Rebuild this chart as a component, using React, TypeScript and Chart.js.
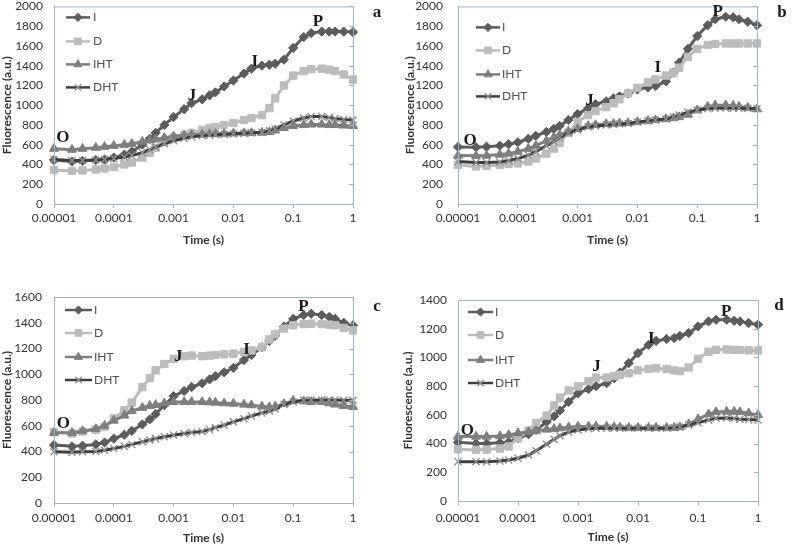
import React, { useEffect, useRef } from "react";
import { Chart, registerables } from "chart.js";
Chart.register(...registerables);

// ---------- data ----------
const TIME = [1e-5, 2e-5, 3e-5, 5e-5, 7e-5, 1e-4, 1.5e-4, 2e-4, 3e-4, 4e-4, 5e-4, 7e-4, 1e-3, 1.5e-3, 2e-3, 3e-3, 4e-3, 5e-3, 7e-3, 1e-2, 1.5e-2, 2e-2, 3e-2, 4e-2, 5e-2, 7e-2, 0.1, 0.15, 0.2, 0.3, 0.4, 0.5, 0.7, 1];
const X_TICKS = [1e-5, 1e-4, 1e-3, 1e-2, 1e-1, 1];
const X_TICK_LABELS = ["0.00001", "0.0001", "0.001", "0.01", "0.1", "1"];
const SERIES_NAMES = ["I", "D", "IHT", "DHT"];
const PANEL_LETTERS = ["a", "b", "c", "d"];
const PANEL_YMAX = [2000, 2000, 1600, 1400];
const Y_STEP = 200;
const X_TITLE = "Time (s)";
const Y_TITLE = "Fluorescence (a.u.)";

// panel a
const A_I = [445, 430, 435, 445, 450, 470, 500, 530, 600, 660, 720, 800, 880, 960, 1020, 1060, 1100, 1130, 1190, 1250, 1320, 1370, 1400, 1410, 1420, 1460, 1580, 1690, 1730, 1745, 1745, 1745, 1745, 1740];
const A_D = [345, 335, 340, 350, 360, 375, 400, 420, 470, 520, 570, 630, 670, 700, 720, 750, 770, 780, 800, 820, 850, 870, 900, 970, 1070, 1200, 1300, 1345, 1365, 1370, 1360, 1345, 1310, 1260];
const A_IHT = [560, 550, 560, 570, 580, 590, 600, 610, 630, 645, 655, 670, 685, 695, 700, 705, 710, 710, 712, 715, 718, 720, 722, 730, 745, 770, 790, 800, 805, 805, 800, 800, 795, 790];
const A_DHT = [450, 440, 440, 445, 450, 460, 475, 490, 520, 550, 575, 610, 640, 665, 680, 690, 695, 700, 705, 710, 715, 720, 725, 740, 760, 800, 840, 870, 885, 885, 875, 865, 855, 850];
// panel b
const B_I = [577, 575, 580, 590, 605, 625, 660, 690, 730, 760, 790, 850, 910, 970, 1010, 1040, 1070, 1090, 1120, 1160, 1180, 1195, 1240, 1330, 1430, 1570, 1700, 1810, 1870, 1895, 1890, 1870, 1845, 1810];
const B_D = [395, 380, 385, 395, 405, 410, 430, 460, 510, 560, 620, 720, 830, 900, 940, 980, 1020, 1060, 1120, 1175, 1230, 1260, 1300, 1330, 1380, 1490, 1570, 1610, 1620, 1625, 1625, 1625, 1625, 1625];
const B_IHT = [490, 488, 490, 500, 510, 530, 560, 590, 640, 675, 700, 735, 760, 790, 800, 810, 812, 815, 820, 830, 840, 850, 860, 870, 880, 905, 950, 985, 1000, 1000, 995, 985, 975, 960];
const B_DHT = [430, 420, 420, 425, 440, 460, 495, 530, 590, 630, 670, 720, 750, 780, 790, 800, 805, 810, 815, 830, 840, 850, 860, 880, 900, 930, 950, 965, 970, 970, 970, 970, 968, 965];
// panel c
const C_I = [450, 440, 445, 455, 470, 500, 530, 560, 610, 650, 690, 760, 830, 870, 900, 930, 960, 985, 1015, 1050, 1110, 1150, 1210, 1260, 1300, 1370, 1430, 1460, 1470, 1460, 1445, 1430, 1400, 1380];
const C_D = [553, 540, 555, 570, 590, 656, 720, 780, 900, 970, 1030, 1080, 1120, 1140, 1145, 1140, 1145, 1150, 1155, 1160, 1175, 1185, 1210, 1270, 1310, 1355, 1380, 1390, 1393, 1390, 1385, 1380, 1360, 1341];
const C_IHT = [545, 545, 560, 575, 600, 640, 680, 715, 740, 755, 762, 775, 785, 785, 785, 785, 783, 780, 775, 772, 765, 760, 750, 745, 750, 770, 795, 790, 785, 785, 775, 765, 755, 747];
const C_DHT = [398, 395, 398, 400, 410, 424, 440, 455, 475, 490, 500, 515, 527, 540, 548, 555, 570, 585, 605, 630, 655, 675, 700, 712, 730, 765, 785, 798, 800, 800, 800, 800, 798, 798];
// panel d
const D_I = [410, 400, 400, 405, 410, 437, 465, 495, 550, 590, 630, 690, 750, 780, 800, 820, 855, 895, 960, 1030, 1088, 1115, 1128, 1135, 1150, 1170, 1216, 1251, 1262, 1263, 1255, 1251, 1240, 1228];
const D_D = [360, 356, 358, 365, 380, 437, 490, 542, 595, 665, 720, 770, 798, 835, 860, 860, 870, 880, 890, 910, 920, 925, 920, 910, 905, 930, 990, 1040, 1053, 1055, 1053, 1052, 1050, 1049];
const D_IHT = [449, 449, 449, 452, 460, 472, 482, 490, 498, 503, 507, 513, 519, 519, 520, 518, 515, 512, 510, 510, 510, 510, 510, 510, 515, 535, 570, 605, 620, 623, 623, 620, 612, 600];
const D_DHT = [274, 274, 274, 278, 285, 298, 320, 350, 395, 430, 455, 480, 495, 503, 507, 507, 507, 507, 507, 507, 507, 507, 507, 510, 515, 530, 545, 565, 577, 578, 575, 570, 567, 565];

const PANEL_SERIES = [
  [A_I, A_D, A_IHT, A_DHT],
  [B_I, B_D, B_IHT, B_DHT],
  [C_I, C_D, C_IHT, C_DHT],
  [D_I, D_D, D_IHT, D_DHT],
];

// curve phase labels (text, time, fluorescence)
const PHASE_TEXT = ["O", "J", "I", "P"];
const A_PHASE_T = [1.41e-5, 2.03e-3, 2.29e-2, 0.26];
const A_PHASE_F = [673, 1093, 1443, 1843];
const B_PHASE_T = [1.6e-5, 1.58e-3, 2.2e-2, 0.22];
const B_PHASE_F = [643, 1043, 1376, 1943];
const C_PHASE_T = [1.43e-5, 1.2e-3, 1.66e-2, 0.148];
const C_PHASE_F = [615, 1137, 1188, 1524];
const D_PHASE_T = [1.43e-5, 2.04e-3, 1.66e-2, 0.296];
const D_PHASE_F = [493, 935, 1133, 1319];
const PANEL_PHASE_T = [A_PHASE_T, B_PHASE_T, C_PHASE_T, D_PHASE_T];
const PANEL_PHASE_F = [A_PHASE_F, B_PHASE_F, C_PHASE_F, D_PHASE_F];

// ---------- styles / layout ----------
const FONT = "Lato, 'Open Sans', sans-serif";
const SERIF = "'Liberation Serif', 'DejaVu Serif', serif";
const TEXT = "#333333";
const BOX = "#a3b3c4";

const STYLES = [
  { line: "#5c5c5c", fill: "#5c5c5c", stroke: "#5c5c5c", point: "rectRot", r: 4.6, bw: 1 },
  { line: "#bcbcbc", fill: "#bcbcbc", stroke: "#bcbcbc", point: "rect", r: 5.2, bw: 1 },
  { line: "#7e7e7e", fill: "#7e7e7e", stroke: "#7e7e7e", point: "triangle", r: 5.2, bw: 1 },
  { line: "#3e3e3e", fill: "#8e8e8e", stroke: "#8e8e8e", point: "crossRot", r: 5, bw: 1.4 },
];

const LAYOUT = [
  { x: 0, y: 0, w: 400, h: 270, l: 54, r: 353, t: 4, b: 204, yGap: 11, xGap: 4, yTitlePad: 1, xTitlePad: 24,
    leg: { x0: 12, x1: 36, tx: 39, ys: [11, 35, 58, 81] }, letter: [24, 6] },
  { x: 400, y: 0, w: 400, h: 270, l: 58, r: 357, t: 4, b: 204, yGap: 15, xGap: 4, yTitlePad: 4, xTitlePad: 24,
    leg: { x0: 18, x1: 42, tx: 44, ys: [21, 44, 68, 90] }, letter: [25, 6] },
  { x: 0, y: 270, w: 400, h: 277, l: 54, r: 353, t: 27, b: 233, yGap: 12, xGap: 5, yTitlePad: 1, xTitlePad: 3,
    leg: { x0: 11, x1: 38, tx: 40, ys: [13, 36, 60, 83] }, letter: [24, 10] },
  { x: 400, y: 270, w: 400, h: 277, l: 58, r: 358, t: 30, b: 231, yGap: 11, xGap: 7, yTitlePad: 2, xTitlePad: 4,
    leg: { x0: 10, x1: 35, tx: 37, ys: [12, 35, 60, 83] }, letter: [21, 6] },
];

function drawMarker(ctx: CanvasRenderingContext2D, kind: string, x: number, y: number, r: number, fill: string, stroke: string, bw: number) {
  ctx.save();
  ctx.fillStyle = fill;
  ctx.strokeStyle = stroke;
  ctx.lineWidth = bw;
  ctx.beginPath();
  if (kind === "rectRot") {
    ctx.moveTo(x - r, y); ctx.lineTo(x, y - r); ctx.lineTo(x + r, y); ctx.lineTo(x, y + r); ctx.closePath();
    ctx.fill(); ctx.stroke();
  } else if (kind === "rect") {
    const s = r * Math.SQRT1_2;
    ctx.rect(x - s, y - s, 2 * s, 2 * s); ctx.fill(); ctx.stroke();
  } else if (kind === "triangle") {
    ctx.moveTo(x, y - r); ctx.lineTo(x + r * 0.866, y + r / 2); ctx.lineTo(x - r * 0.866, y + r / 2); ctx.closePath();
    ctx.fill(); ctx.stroke();
  } else {
    const d = r * Math.SQRT1_2;
    ctx.moveTo(x - d, y - d); ctx.lineTo(x + d, y + d); ctx.moveTo(x + d, y - d); ctx.lineTo(x - d, y + d);
    ctx.stroke();
  }
  ctx.restore();
}

function Panel({ idx }: { idx: number }) {
  const ref = useRef<HTMLCanvasElement>(null);
  const L = LAYOUT[idx];
  useEffect(() => {
    const series = PANEL_SERIES[idx];
    const datasets = series.map((vals, i) => ({
      label: SERIES_NAMES[i],
      data: TIME.map((t, k) => ({ x: t, y: vals[k] })),
      borderColor: STYLES[i].line,
      backgroundColor: STYLES[i].fill,
      pointBackgroundColor: STYLES[i].fill,
      pointBorderColor: STYLES[i].stroke,
      pointBorderWidth: STYLES[i].bw,
      pointStyle: STYLES[i].point,
      pointRadius: STYLES[i].r,
      borderWidth: 3,
      tension: 0,
      clip: false as any,
      order: 4 - i,
    }));
    const decor = {
      id: "decor",
      afterDraw(chart: any) {
        const { ctx, chartArea: a, scales } = chart;
        const ys = scales.y;
        const xs = scales.x;
        ctx.save();
        // plot box
        ctx.strokeStyle = BOX;
        ctx.lineWidth = 1;
        ctx.strokeRect(a.left + 0.5, a.top + 0.5, a.right - a.left, a.bottom - a.top);
        // inward ticks on the right edge
        ctx.beginPath();
        ys.ticks.forEach((tk: any) => {
          const py = Math.round(ys.getPixelForValue(tk.value)) + 0.5;
          ctx.moveTo(a.right - 4, py);
          ctx.lineTo(a.right, py);
        });
        ctx.stroke();
        // legend
        const lg = L.leg;
        SERIES_NAMES.forEach((name, i) => {
          const st = STYLES[i];
          const y = a.top + lg.ys[i];
          ctx.beginPath();
          ctx.strokeStyle = st.line;
          ctx.lineWidth = 2.5;
          ctx.moveTo(a.left + lg.x0, y);
          ctx.lineTo(a.left + lg.x1, y);
          ctx.stroke();
          drawMarker(ctx, st.point, a.left + (lg.x0 + lg.x1) / 2, y, st.r - 0.5, st.fill, st.stroke, st.bw);
          ctx.fillStyle = "#505050";
          ctx.font = `12px ${FONT}`;
          ctx.textAlign = "left";
          ctx.textBaseline = "middle";
          ctx.fillText(name, a.left + lg.tx, y);
        });
        // phase labels
        ctx.fillStyle = "#1a1a1a";
        ctx.font = `bold 17px ${SERIF}`;
        ctx.textAlign = "center";
        ctx.textBaseline = "middle";
        PHASE_TEXT.forEach((t, i) => {
          ctx.fillText(t, xs.getPixelForValue(PANEL_PHASE_T[idx][i]), ys.getPixelForValue(PANEL_PHASE_F[idx][i]));
        });
        // panel letter
        ctx.font = `bold 17px ${SERIF}`;
        ctx.fillText(PANEL_LETTERS[idx], a.right + L.letter[0], a.top + L.letter[1]);
        ctx.restore();
      },
    };
    const chart = new Chart(ref.current!, {
      type: "line",
      data: { datasets: datasets as any },
      options: {
        animation: false,
        responsive: false,
        devicePixelRatio: 1,
        layout: { padding: { left: 0, right: L.w - L.r, top: L.t, bottom: 0 } },
        plugins: { legend: { display: false }, tooltip: { enabled: false } },
        scales: {
          x: {
            type: "logarithmic",
            min: X_TICKS[0],
            max: X_TICKS[X_TICKS.length - 1],
            afterBuildTicks: (s: any) => {
              s.ticks = X_TICKS.map((v) => ({ value: v }));
            },
            afterFit: (s: any) => {
              s.height = L.h - L.b;
              s.paddingLeft = 0; s.paddingRight = 0; s.paddingTop = 0; s.paddingBottom = 0;
            },
            grid: { drawOnChartArea: false, drawTicks: true, tickLength: 4, color: BOX },
            border: { color: BOX },
            ticks: {
              autoSkip: false,
              maxRotation: 0,
              padding: L.xGap,
              color: TEXT,
              font: { family: FONT, size: 12, lineHeight: 1 },
              callback: (v: any) => {
                const k = X_TICKS.findIndex((t) => Math.abs(Math.log10(t) - Math.log10(Number(v))) < 1e-6);
                return k >= 0 ? X_TICK_LABELS[k] : "";
              },
            },
            title: {
              display: true,
              text: X_TITLE,
              color: TEXT,
              font: { family: FONT, size: 12, weight: "bold", lineHeight: 1 },
              padding: { top: 0, bottom: L.xTitlePad },
            },
          },
          y: {
            type: "linear",
            min: 0,
            max: PANEL_YMAX[idx],
            afterFit: (s: any) => {
              s.width = L.l;
              s.paddingLeft = 0; s.paddingRight = 0; s.paddingTop = 0; s.paddingBottom = 0;
            },
            grid: { drawOnChartArea: false, drawTicks: true, tickLength: 0, color: BOX },
            border: { color: BOX },
            ticks: {
              stepSize: Y_STEP,
              padding: L.yGap,
              color: TEXT,
              font: { family: FONT, size: 12, lineHeight: 1 },
              callback: (v: any) => String(v),
            },
            title: {
              display: true,
              text: Y_TITLE,
              color: TEXT,
              font: { family: FONT, size: 12, weight: "bold", lineHeight: 1 },
              padding: { top: L.yTitlePad, bottom: 0 },
            },
          },
        },
      },
      plugins: [decor],
    } as any);
    return () => chart.destroy();
  }, [idx]);
  return (
    <canvas
      ref={ref}
      width={L.w}
      height={L.h}
      style={{ position: "absolute", left: L.x, top: L.y, width: L.w, height: L.h }}
    />
  );
}

export default function App() {
  return (
    <div style={{ position: "fixed", left: 0, top: 0, width: 800, height: 547, background: "#ffffff", overflow: "hidden" }}>
      {[0, 1, 2, 3].map((i) => (
        <Panel key={i} idx={i} />
      ))}
    </div>
  );
}
